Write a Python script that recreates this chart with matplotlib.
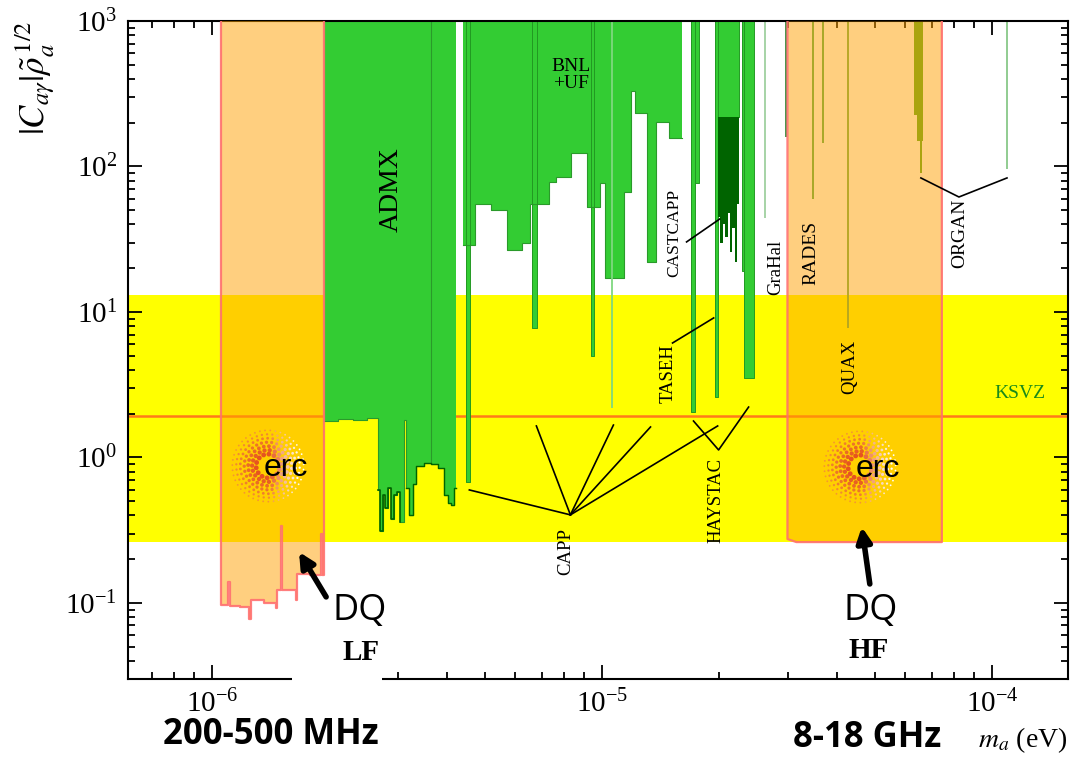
import numpy as np
import matplotlib.pyplot as plt
from matplotlib.patches import Rectangle

plt.rcParams['font.family'] = 'serif'
plt.rcParams['font.serif'] = ['Liberation Serif', 'DejaVu Serif']
plt.rcParams['mathtext.fontset'] = 'stix'

# axis ranges: axion mass (eV) and |C_ag| rho^1/2
m_range = [6.09e-7, 1.567e-4]
g_range = [0.030, 1000]

# KSVZ band and line
ksvz_band = [0.262, 13.1]
ksvz_line = 1.93

# DQ low-frequency reach (lower edge, step profile)
lf_m = [1.055e-6, 1.10e-6, 1.112e-6, 1.18e-6, 1.245e-6, 1.26e-6, 1.36e-6, 1.46e-6,
        1.47e-6, 1.50e-6, 1.51e-6, 1.643e-6, 1.653e-6, 1.78e-6, 1.90e-6, 1.915e-6, 1.939e-6]
lf_g = [0.097, 0.14, 0.096, 0.094, 0.078, 0.105, 0.10, 0.093,
        0.123, 0.34, 0.122, 0.104, 0.157, 0.155, 0.30, 0.155, 0.155]

# DQ high-frequency reach
hf_m = [2.99e-5, 3.15e-5, 7.44e-5]
hf_g = [0.275, 0.262, 0.262]

# ADMX exclusion, lower edge
admx_m = [1.94e-6, 2.10e-6, 2.30e-6, 2.50e-6, 2.67e-6, 2.70e-6, 2.74e-6, 2.78e-6, 2.83e-6,
          2.88e-6, 2.93e-6, 2.98e-6, 3.04e-6, 3.11e-6, 3.15e-6, 3.20e-6, 3.27e-6, 3.34e-6,
          3.50e-6, 3.65e-6, 3.80e-6, 3.94e-6, 4.02e-6, 4.10e-6, 4.17e-6, 4.23e-6]
admx_g = [1.78, 1.85, 1.80, 1.88, 0.60, 0.31, 0.55, 0.45, 0.62,
          0.38, 0.55, 0.58, 0.36, 1.80, 0.62, 0.40, 0.66, 0.88,
          0.92, 0.90, 0.85, 0.55, 0.49, 0.47, 0.62, 0.62]

# BNL + UF exclusion, lower edge
bnl_m = [4.41e-6, 4.73e-6, 5.20e-6, 5.72e-6, 6.25e-6, 6.55e-6, 7.33e-6, 7.64e-6, 8.35e-6,
         9.13e-6, 9.91e-6, 1.021e-5, 1.136e-5, 1.184e-5, 1.219e-5, 1.301e-5, 1.372e-5,
         1.49e-5, 1.60e-5]
bnl_g = [28.8, 55, 50, 26.7, 30, 55, 78, 85, 124,
         53, 77, 17, 67, 331, 233, 22, 202,
         157, 157]

# narrow exclusion strips (CAPP, TASEH, HAYSTAC ...)
strip_lo = [4.49e-6, 6.63e-6, 9.40e-6, 1.687e-5, 1.728e-5, 1.945e-5, 1.98e-5, 2.28e-5, 2.32e-5]
strip_hi = [4.60e-6, 6.80e-6, 9.56e-6, 1.728e-5, 1.77e-5, 1.98e-5, 2.25e-5, 2.32e-5, 2.45e-5]
strip_g = [0.68, 7.8, 5.0, 2.05, 77, 2.6, 220, 19, 3.5]

# CASTCAPP noisy edge
castcapp_m = [1.98e-5, 2.01e-5, 2.04e-5, 2.07e-5, 2.10e-5, 2.13e-5, 2.16e-5, 2.19e-5, 2.22e-5, 2.25e-5]
castcapp_g = [45, 30, 40, 33, 48, 26, 38, 22, 55, 55]

# ORGAN
organ_m = [6.31e-5, 6.42e-5, 6.55e-5, 6.62e-5, 6.65e-5]
organ_g = [226, 150, 90, 150, 150]

# single thin limits (GraHal, RADES, QUAX, ORGAN ...)
line_m = [1.064e-5, 2.62e-5, 2.96e-5, 3.47e-5, 3.68e-5, 4.27e-5, 1.093e-4]
line_g = [2.2, 44, 160, 60, 145, 7.7, 96]

GREEN = '#33cc33'
DKGREEN = '#006400'
ORANGE = '#ffa000'
EDGE = '#ff7070'

fig = plt.figure(figsize=(10.71, 7.58), dpi=100)
ax = fig.add_axes([128/1071, 1 - 679/758, 940/1071, 658/758])
ax.set_xscale('log')
ax.set_yscale('log')
ax.set_xlim(m_range)
ax.set_ylim(g_range)

top = g_range[1]
ax.axhspan(ksvz_band[0], ksvz_band[1], color='#ffff00', lw=0, zorder=1)
ax.axhline(ksvz_line, color='#ff7a1a', lw=1.8, zorder=1.5)

# green exclusion regions
for mm, gg in [(admx_m, admx_g), (bnl_m, bnl_g)]:
    ax.fill_between(mm, gg, top, step='post', color=GREEN, lw=0, zorder=2)
    ax.step(mm, gg, where='post', color='#2a9a2a', lw=0.8, zorder=2.1)
ax.step(admx_m[4:13], admx_g[4:13], where='post', color=DKGREEN, lw=1.2, zorder=2.2)
ax.step(admx_m[14:26], admx_g[14:26], where='post', color=DKGREEN, lw=1.0, zorder=2.2)
ax.vlines(3.65e-6, 0.9, top, color='#2a9a2a', lw=0.8, zorder=2.1)
for lo, hi, g in zip(strip_lo, strip_hi, strip_g):
    ax.fill_between([lo, hi], [g, g], top, color=GREEN, lw=0, zorder=2)
    ax.plot([lo, lo, hi, hi], [top, g, g, top], color='#229922', lw=0.7, zorder=2.1)
ax.fill_between(castcapp_m, castcapp_g, 220, step='post', color=DKGREEN, lw=0, zorder=2.2)
ax.fill_between(organ_m, organ_g, top, step='post', color='#55aa22', lw=0, zorder=2)
line_cols = ['#7fd87f', '#9fd09f', '#3a8a3a', '#44aa44', '#44aa44', '#66aa44', '#88c888']
for m, g, c in zip(line_m, line_g, line_cols):
    ax.vlines(m, g, top, color=c, lw=1.3, zorder=2.1)

# DQ orange bands
ax.fill_between(lf_m, lf_g, top, step='post', color=ORANGE, alpha=0.5, lw=0, zorder=3)
ax.step([lf_m[0]] + lf_m + [lf_m[-1]], [top] + lf_g + [top], where='post',
        color=EDGE, lw=1.6, alpha=0.9, zorder=3.2)
ax.fill_between(hf_m, hf_g, top, color=ORANGE, alpha=0.5, lw=0, zorder=3)
ax.plot([hf_m[0]] + hf_m + [hf_m[-1]], [top] + hf_g + [top], color=EDGE, lw=1.6,
        alpha=0.9, zorder=3.2)

# experiment labels
lab = dict(color='k', ha='center', va='center', zorder=5)
ax.text(2.88e-6, 68.9, 'ADMX', rotation=90, fontsize=20, **lab)
ax.text(8.35e-6, 425, 'BNL\n+UF', fontsize=14, linespacing=0.95, **lab)
ax.text(1.535e-5, 34.9, 'CASTCAPP', rotation=90, fontsize=12.5, **lab)
ax.text(1.482e-5, 3.75, 'TASEH', rotation=90, fontsize=13.5, **lab)
ax.text(1.956e-5, 0.51, 'HAYSTAC', rotation=90, fontsize=13.5, **lab)
ax.text(8.06e-6, 0.224, 'CAPP', rotation=90, fontsize=13.5, **lab)
ax.text(2.79e-5, 20.4, 'GraHal', rotation=90, fontsize=13.5, **lab)
ax.text(3.43e-5, 25.4, 'RADES', rotation=90, fontsize=14, **lab)
ax.text(4.32e-5, 4.19, 'QUAX', rotation=90, fontsize=13.5, **lab)
ax.text(8.27e-5, 34.9, 'ORGAN', rotation=90, fontsize=14, **lab)
ax.text(1.18e-4, 2.77, 'KSVZ', fontsize=14, color='#1a8a1a', ha='center', va='center', zorder=5)

lk = dict(color='k', lw=1.2, zorder=4)
ax.plot([1.648e-5, 2.003e-5], [30.3, 43.5], **lk)
ax.plot([1.517e-5, 1.934e-5], [6.12, 9.1], **lk)
ax.plot([1.717e-5, 1.991e-5, 2.377e-5], [1.78, 1.126, 2.22], **lk)
for m, g in [(4.57e-6, 0.598), (6.79e-6, 1.646), (1.07e-5, 1.67), (1.332e-5, 1.62), (1.98e-5, 1.646)]:
    ax.plot([8.30e-6, m], [0.403, g], **lk)
ax.plot([6.574e-5, 8.23e-5, 1.093e-4], [83.4, 61.7, 83.4], **lk)

# arrows to DQ labels
arr = dict(arrowstyle='-|>', color='k', lw=4, mutation_scale=22, shrinkA=0, shrinkB=0)
ax.annotate('', xy=(1.672e-6, 0.224), xytext=(1.962e-6, 0.110), arrowprops=arr, zorder=6)
ax.annotate('', xy=(4.637e-5, 0.333), xytext=(4.862e-5, 0.135), arrowprops=arr, zorder=6)

# axes styling
for s in ax.spines.values():
    s.set_linewidth(1.5)
ax.tick_params(which='both', direction='in', top=True, right=True, width=1.3, labelsize=21)
ax.tick_params(which='major', length=10, pad=8)
ax.tick_params(which='minor', length=5)
ax.set_ylabel(r'$|C_{a\gamma}|\tilde{\rho}_a^{\,1/2}$', fontsize=25, loc='top')
ax.yaxis.set_label_coords(-0.076, 1.0)
ax.set_xlabel(r'$m_a$ (eV)', fontsize=20, loc='right')
ax.xaxis.set_label_coords(1.0, -0.07)

# white box behind the LF label hides part of the axis
fig.add_artist(Rectangle((292/1071, 1 - 700/758), 90/1071, 88/758, transform=fig.transFigure,
                         facecolor='white', edgecolor='none', zorder=3))
sans = ['Open Sans', 'DejaVu Sans']
fig.text(360/1071, 1 - 611/758, 'DQ', fontsize=26, family=sans, ha='center', va='center', zorder=5)
fig.text(361/1071, 1 - 652/758, 'LF', fontsize=21, weight='bold', ha='center', va='center', zorder=5)
fig.text(871/1071, 1 - 611/758, 'DQ', fontsize=26, family=sans, ha='center', va='center', zorder=5)
fig.text(869/1071, 1 - 651/758, 'HF', fontsize=21, weight='bold', ha='center', va='center', zorder=5)
fig.text(271/1071, 1 - 735/758, '200-500 MHz', fontsize=25, family=sans, weight='bold',
         ha='center', va='center', zorder=5)
fig.text(867/1071, 1 - 738/758, '8-18 GHz', fontsize=25, family=sans, weight='bold',
         ha='center', va='center', zorder=5)

# erc logos
def erc_logo(cx, cy):
    lax = fig.add_axes([(cx - 40)/1071, 1 - (cy + 40)/758, 80/1071, 80/758])
    lax.set_xlim(-1.08, 1.08)
    lax.set_ylim(-1.08, 1.08)
    lax.axis('off')
    base_in = np.array([0.90, 0.33, 0.12])
    base_out = np.array([0.96, 0.58, 0.20])
    for k in range(3, 10):
        r = 0.107 * k
        n = int(round(2 * np.pi * r / 0.14))
        th = np.linspace(0, 2 * np.pi, n, endpoint=False) + 0.2 * k
        px, py = r * np.cos(th), r * np.sin(th)
        t = np.clip((px - 0.05) / 0.8, 0, 1)[:, None]
        f = (r - 0.32) / 0.64
        base = base_in + (base_out - base_in) * f
        cols = base * (1 - t) + np.ones(3) * t
        d = 4.8 - 3.0 * f
        lax.scatter(px, py, s=(d * 0.72) ** 2, c=cols, lw=0)
    lax.text(-0.12, -0.05, 'erc', fontsize=23, family=['Liberation Sans', 'DejaVu Sans'],
             ha='left', va='center', color='k')

erc_logo(268, 466)
erc_logo(860, 467)

fig.savefig('out.png', dpi=100)
